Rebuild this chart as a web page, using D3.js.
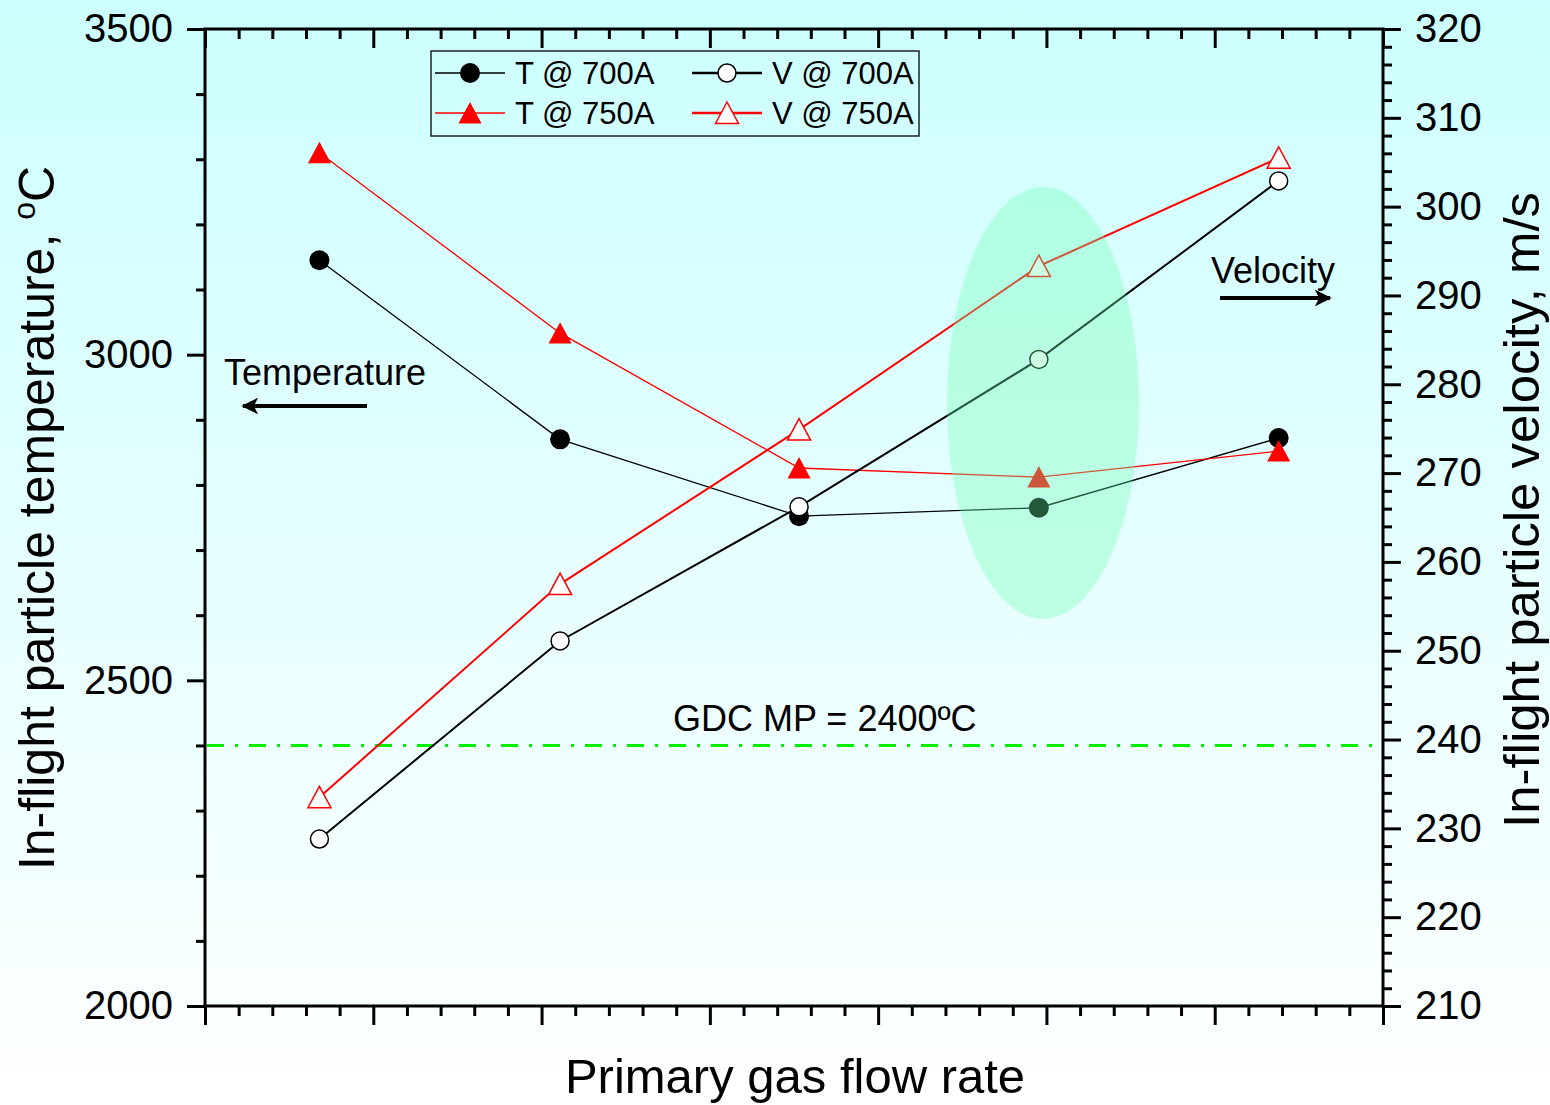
<!DOCTYPE html>
<html><head><meta charset="utf-8">
<script src="https://cdn.jsdelivr.net/npm/d3@7"></script>
<style>body{margin:0;padding:0;overflow:hidden}svg{display:block;font-family:"Liberation Sans",Arial,sans-serif}</style>
</head><body>
<svg id="chart" width="1550" height="1105"></svg>
<script>
// ---- data ----
const flowPositions = [0.68, 2.11, 3.53, 4.955, 6.38];   // primary gas flow rate (unlabelled axis)
const temp700 = [3145, 2870, 2752, 2765, 2872];
const temp750 = [3310, 3033, 2826, 2812, 2852];
const vel700  = [228.8, 251.1, 266.2, 282.8, 302.9];
const vel750  = [233.5, 257.5, 274.9, 293.3, 305.5];
const leftTicks  = [2000, 2500, 3000, 3500];
const rightTicks = [210, 220, 230, 240, 250, 260, 270, 280, 290, 300, 310, 320];
const gdcMelting = 2400;
const legendLabels = ["T @ 700A", "V @ 700A", "T @ 750A", "V @ 750A"];

const svg = d3.select("#chart");
const W = 1550, H = 1105;
const L = 205, R = 1383, T = 29, B = 1006;

// background gradient
const defs = svg.append("defs");
const grad = defs.append("linearGradient").attr("id","bg").attr("x1",0).attr("y1",0).attr("x2",0).attr("y2",1);
grad.append("stop").attr("offset","0%").attr("stop-color","#ccffff");
grad.append("stop").attr("offset","100%").attr("stop-color","#ffffff");
svg.append("rect").attr("width",W).attr("height",H).attr("fill","url(#bg)");

const mk = defs.append("marker").attr("id","arrow").attr("viewBox","0 0 10 10").attr("refX",9).attr("refY",5)
  .attr("markerWidth",6.5).attr("markerHeight",4.2).attr("markerUnits","strokeWidth").attr("orient","auto");
mk.append("path").attr("d","M0,0 L10,5 L0,10 L2.5,5 Z").attr("fill","#000");

const x  = d3.scaleLinear().domain([0,7]).range([L,R]);
const yL = d3.scaleLinear().domain([2000,3500]).range([B,T]);
const yR = d3.scaleLinear().domain([210,320]).range([B,T]);

// ---- axes ----
function styleAxis(g){
  g.select(".domain").remove();
  g.selectAll("line").attr("stroke","#000").attr("stroke-width",3);
  g.selectAll("text").attr("fill","#000").attr("font-size",40).attr("font-family","Liberation Sans, Arial, sans-serif");
}
const xMajor = d3.range(0,7.001,1);
const xMinor = d3.range(0,7.001,0.2).filter(v=>Math.abs(v-Math.round(v))>1e-6);
// bottom
svg.append("g").attr("transform",`translate(0,${B})`).call(d3.axisBottom(x).tickValues(xMajor).tickSize(19).tickFormat("")).call(styleAxis);
svg.append("g").attr("transform",`translate(0,${B})`).call(d3.axisBottom(x).tickValues(xMinor).tickSize(10).tickFormat("")).call(styleAxis);
// top (inward)
svg.append("g").attr("transform",`translate(0,${T})`).call(d3.axisBottom(x).tickValues(xMajor).tickSize(19).tickFormat("")).call(styleAxis);
svg.append("g").attr("transform",`translate(0,${T})`).call(d3.axisBottom(x).tickValues(xMinor).tickSize(10).tickFormat("")).call(styleAxis);
// left
svg.append("g").attr("transform",`translate(${L},0)`).call(d3.axisLeft(yL).tickValues(leftTicks).tickSize(18).tickPadding(14).tickFormat(d3.format("d"))).call(styleAxis);
svg.append("g").attr("transform",`translate(${L},0)`).call(d3.axisLeft(yL).tickValues(d3.range(2100,3500,100).filter(v=>v%500)).tickSize(9).tickFormat("")).call(styleAxis);
// right
svg.append("g").attr("transform",`translate(${R},0)`).call(d3.axisRight(yR).tickValues(rightTicks).tickSize(18).tickPadding(14).tickFormat(d3.format("d"))).call(styleAxis);
svg.append("g").attr("transform",`translate(${R},0)`).call(d3.axisRight(yR).tickValues(d3.range(212,320,2).filter(v=>v%10)).tickSize(9).tickFormat("")).call(styleAxis);

// frame
svg.append("rect").attr("x",L).attr("y",T).attr("width",R-L).attr("height",B-T)
  .attr("fill","none").attr("stroke","#000").attr("stroke-width",3);

// GDC melting point line
svg.append("line").attr("x1",L+2).attr("x2",R-2).attr("y1",yL(gdcMelting)).attr("y2",yL(gdcMelting))
  .attr("stroke","#00ee00").attr("stroke-width",3).attr("stroke-dasharray","17,11,3,11");

// ---- series ----
function series(vals, yScale, color, width, shape, filled){
  const pts = vals.map((v,i)=>[x(flowPositions[i]), yScale(v)]);
  svg.append("path").attr("d", d3.line()(pts)).attr("fill","none").attr("stroke",color).attr("stroke-width",width);
  pts.forEach(p=>drawMarker(p[0],p[1],color,shape,filled));
}
function drawMarker(cx,cy,color,shape,filled){
  if(shape==="circle"){
    svg.append("circle").attr("cx",cx).attr("cy",cy).attr("r",filled?10:9)
      .attr("fill",filled?color:"#fff").attr("stroke",color).attr("stroke-width",filled?0:1.5);
  } else {
    const s = 11;
    svg.append("path").attr("d",`M${cx},${cy-s} L${cx+s*1.05},${cy+s*0.95} L${cx-s*1.05},${cy+s*0.95} Z`)
      .attr("fill",filled?color:"#fff").attr("stroke",color).attr("stroke-width",filled?0:1.5);
  }
}
series(temp700, yL, "#000", 1.3, "circle", true);
series(temp750, yL, "#ff0000", 1.3, "triangle", true);
series(vel700, yR, "#000", 2, "circle", false);
series(vel750, yR, "#ff0000", 2, "triangle", false);

// highlight ellipse
svg.append("ellipse").attr("cx",1043).attr("cy",403).attr("rx",96).attr("ry",216)
  .attr("fill","rgb(107,255,172)").attr("fill-opacity",0.34);

// ---- annotations ----
svg.append("text").attr("x",673).attr("y",731).attr("font-size",36).text("GDC MP = 2400ºC");
svg.append("text").attr("x",224).attr("y",385).attr("font-size",36).text("Temperature");
svg.append("line").attr("x1",367).attr("y1",406).attr("x2",243).attr("y2",406).attr("stroke","#000").attr("stroke-width",4).attr("marker-end","url(#arrow)");
svg.append("text").attr("x",1211).attr("y",283).attr("font-size",36).text("Velocity");
svg.append("line").attr("x1",1220).attr("y1",298).attr("x2",1330).attr("y2",298).attr("stroke","#000").attr("stroke-width",4).attr("marker-end","url(#arrow)");

// ---- axis titles ----
const lt = svg.append("text").attr("transform","translate(54,518) rotate(-90)").attr("text-anchor","middle").attr("font-size",50);
lt.append("tspan").text("In-flight particle temperature, ");
lt.append("tspan").attr("font-size",32).attr("dy",-19).text("o");
lt.append("tspan").attr("dy",19).text("C");
svg.append("text").attr("transform","translate(1539,510) rotate(-90)").attr("text-anchor","middle").attr("font-size",50)
  .attr("textLength",636).attr("lengthAdjust","spacingAndGlyphs")
  .text("In-flight particle velocity, m/s");
svg.append("text").attr("x",795).attr("y",1093).attr("text-anchor","middle").attr("font-size",49).text("Primary gas flow rate");

// ---- legend ----
const lg = svg.append("g");
lg.append("rect").attr("x",431).attr("y",51).attr("width",488).attr("height",85).attr("fill","none").attr("stroke","#222").attr("stroke-width",1.5);
const legendItems = [
  {label:legendLabels[0], color:"#000", w:1.3, shape:"circle", filled:true, lx:435, ty:73},
  {label:legendLabels[1], color:"#000", w:2.5, shape:"circle", filled:false, lx:692, ty:73},
  {label:legendLabels[2], color:"#ff0000", w:1.3, shape:"triangle", filled:true, lx:435, ty:113},
  {label:legendLabels[3], color:"#ff0000", w:2.5, shape:"triangle", filled:false, lx:692, ty:113}
];
legendItems.forEach(it=>{
  lg.append("line").attr("x1",it.lx).attr("x2",it.lx+70).attr("y1",it.ty).attr("y2",it.ty).attr("stroke",it.color).attr("stroke-width",it.w);
  drawMarker(it.lx+35, it.ty, it.color, it.shape, it.filled);
  lg.append("text").attr("x",it.lx+80).attr("y",it.ty+11).attr("font-size",31).text(it.label);
});
</script>
</body></html>
